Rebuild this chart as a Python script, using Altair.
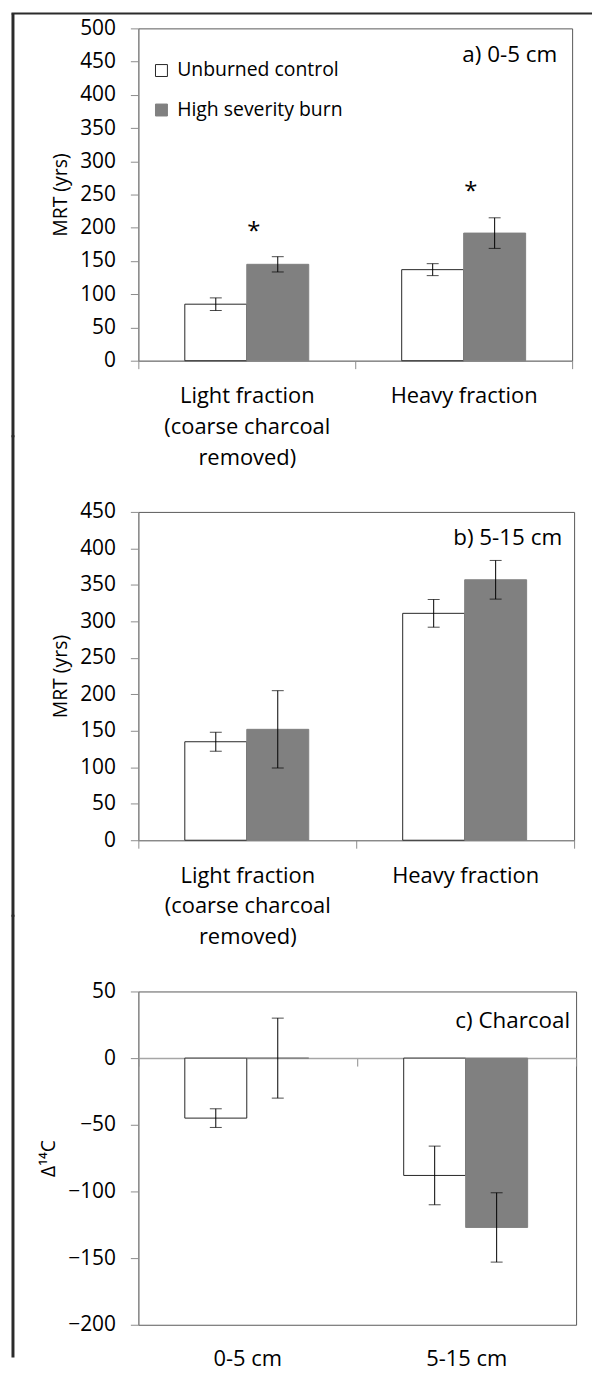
import altair as alt
import pandas as pd

FONT = "Open Sans"

treatments = ["Unburned control", "High severity burn"]
fill_colors = ["#ffffff", "#808080"]
stroke_colors = ["#262626", "#808080"]

# ---- panel a) 0-5 cm ----
a_cats = ["Light fraction", "Heavy fraction"]
a_control = [85, 137]
a_control_err = [9.5, 9]
a_burn = [145, 192]
a_burn_err = [11.5, 23]
a_star_cats = ["Light fraction", "Heavy fraction"]
a_star_y = [203, 263]
a_ticks = [0, 50, 100, 150, 200, 250, 300, 350, 400, 450, 500]

# ---- panel b) 5-15 cm ----
b_cats = ["Light fraction", "Heavy fraction"]
b_control = [135, 311]
b_control_err = [13, 19]
b_burn = [152, 357]
b_burn_err = [53, 26.5]
b_ticks = [0, 50, 100, 150, 200, 250, 300, 350, 400, 450]

# ---- panel c) Charcoal ----
c_cats = ["0-5 cm", "5-15 cm"]
c_control = [-45, -88]
c_control_err = [7, 22]
c_burn = [0, -127]
c_burn_err = [30, 26]
c_ticks = [-200, -150, -100, -50, 0, 50]

light_label_lines = ["Light fraction", "(coarse charcoal", "removed)"]
panel_titles = ["a) 0-5 cm", "b) 5-15 cm", "c) Charcoal"]
y_titles = ["MRT (yrs)", "MRT (yrs)", "Δ¹⁴C"]

FRAME_X = -126
FRAME_COLOR = "#2b2b2b"
AXIS_GRAY = "#8c8c8c"
TICK_FS = 21
XLAB_FS = 22
LEG_FS = 19.5
PTITLE_FS = 22.5
YTITLE_FS = 19.5


def make_df(cats, control, cerr, burn, berr):
    rows = []
    for i, c in enumerate(cats):
        rows.append({"cat": c, "trt": treatments[0], "v": control[i], "e": cerr[i]})
        rows.append({"cat": c, "trt": treatments[1], "v": burn[i], "e": berr[i]})
    return pd.DataFrame(rows)


label_expr = ("datum.value == '" + light_label_lines[0] + "' ? ["
              + ", ".join("'" + s + "'" for s in light_label_lines) + "] : datum.label")


def panel(cats, control, cerr, burn, berr, ticks, ytitle, ptitle, width, height,
          legend_x, legend_y, legend_rowpad, title_dx, title_y, frame_top, frame_bottom,
          zero_axis=False, stars=None, top_frame=False):
    df = make_df(cats, control, cerr, burn, berr)
    base = alt.Chart(df)

    if zero_axis:
        x_axis = alt.Axis(title=None, labelExpr=label_expr, labelFontSize=XLAB_FS, labelLineHeight=31,
                          ticks=False, domain=False, labelPadding=24, labelAngle=0, orient="bottom")
    else:
        x_axis = alt.Axis(title=None, labelExpr=label_expr, labelFontSize=XLAB_FS, labelLineHeight=31,
                          tickBand="extent", tickSize=8, labelPadding=17, labelAngle=0,
                          domainColor=AXIS_GRAY, tickColor=AXIS_GRAY, orient="bottom")
    X = alt.X("cat:N", sort=cats, title=None,
              scale=alt.Scale(paddingInner=0, paddingOuter=0), axis=x_axis)
    XO = alt.XOffset("trt:N", sort=treatments,
                     scale=alt.Scale(domain=treatments, paddingInner=0, paddingOuter=0.75))

    def Y(field):
        return alt.Y(field, title=ytitle,
                     scale=alt.Scale(domain=[ticks[0], ticks[-1]], nice=False),
                     axis=alt.Axis(values=ticks, tickSize=8, labelPadding=15, labelFontSize=TICK_FS,
                                   titleFontSize=YTITLE_FS, titleFontWeight="normal", titlePadding=9,
                                   domainColor=AXIS_GRAY, tickColor=AXIS_GRAY, grid=False))

    leg = alt.Legend(title=None, orient="none", legendX=legend_x, legendY=legend_y,
                     symbolType="square", symbolSize=144, symbolStrokeWidth=1,
                     labelFontSize=LEG_FS, labelFont=FONT, labelColor="#000", labelOffset=6,
                     rowPadding=legend_rowpad, padding=0, labelLimit=400)

    bars = base.mark_bar(strokeWidth=1).encode(
        x=X, xOffset=XO, y=Y("v:Q"),
        fill=alt.Fill("trt:N", sort=treatments,
                      scale=alt.Scale(domain=treatments, range=fill_colors), legend=leg),
        stroke=alt.Stroke("trt:N", sort=treatments,
                          scale=alt.Scale(domain=treatments, range=stroke_colors), legend=leg),
    )
    err_base = base.transform_calculate(lo="datum.v - datum.e", hi="datum.v + datum.e")
    err = err_base.mark_rule(color="#000", strokeWidth=1).encode(x=X, xOffset=XO, y=Y("lo:Q"), y2="hi:Q")
    cap_lo = err_base.mark_tick(color="#000", thickness=1, size=12, orient="horizontal").encode(
        x=X, xOffset=XO, y=Y("lo:Q"))
    cap_hi = err_base.mark_tick(color="#000", thickness=1, size=12, orient="horizontal").encode(
        x=X, xOffset=XO, y=Y("hi:Q"))

    one = pd.DataFrame({"t": [ptitle]})
    ptext = alt.Chart(one).mark_text(align="right", baseline="middle", fontSize=PTITLE_FS,
                                     font=FONT, color="#000").encode(
        text="t:N", x=alt.value(width - title_dx), y=alt.value(title_y))

    frame_left = alt.Chart(one).mark_rule(color=FRAME_COLOR, strokeWidth=3).encode(
        x=alt.value(FRAME_X), y=alt.value(frame_top), y2=alt.value(frame_bottom))

    layers = [bars, err, cap_lo, cap_hi]
    if stars is not None:
        sdf = pd.DataFrame({"cat": stars[0], "trt": [treatments[1]] * len(stars[0]),
                            "v": stars[1], "s": ["*"] * len(stars[0])})
        star_layer = alt.Chart(sdf).mark_text(fontSize=24, font=FONT, color="#000",
                                              baseline="middle", dx=-24, dy=6).encode(
            x=X, xOffset=XO, y=Y("v:Q"), text="s:N")
        layers.append(star_layer)
    layers += [ptext, frame_left]
    if top_frame:
        layers.append(alt.Chart(one).mark_rule(color=FRAME_COLOR, strokeWidth=2).encode(
            x=alt.value(FRAME_X - 1.5), x2=alt.value(456), y=alt.value(frame_top),
            y2=alt.value(frame_top)))
    inner = alt.layer(*layers)

    if zero_axis:
        zero_from_top = height * (ticks[-1] - 0) / (ticks[-1] - ticks[0])
        zero_off = -(height - zero_from_top)
        zaxis = alt.Axis(title=None, labels=False, tickBand="extent", tickSize=8,
                         offset=zero_off, orient="bottom", domainColor="#a6a6a6",
                         domainWidth=1.5, tickColor=AXIS_GRAY)
        zl = base.mark_point(opacity=0).encode(
            x=alt.X("cat:N", sort=cats, title=None,
                    scale=alt.Scale(paddingInner=0, paddingOuter=0), axis=zaxis),
            y=Y("v:Q"))
        inner = alt.layer(inner, zl).resolve_axis(x="independent")

    return inner.properties(width=width, height=height)


pa = panel(a_cats, a_control, a_control_err, a_burn, a_burn_err, a_ticks, y_titles[0],
           panel_titles[0], 436, 334, legend_x=13.5, legend_y=32.6, legend_rowpad=18.7,
           title_dx=15, title_y=27, frame_top=-15, frame_bottom=334 + 77,
           stars=(a_star_cats, a_star_y), top_frame=True)
pb = panel(b_cats, b_control, b_control_err, b_burn, b_burn_err, b_ticks, y_titles[1],
           panel_titles[1], 438, 330, legend_x=24.5, legend_y=18, legend_rowpad=15,
           title_dx=12, title_y=26, frame_top=-77, frame_bottom=330 + 77)
pc = panel(c_cats, c_control, c_control_err, c_burn, c_burn_err, c_ticks, y_titles[2],
           panel_titles[2], 440, 335, legend_x=36, legend_y=247, legend_rowpad=19,
           title_dx=6, title_y=30, frame_top=-77, frame_bottom=368, zero_axis=True)

chart = alt.vconcat(pa, pb, pc, spacing=152, bounds="flush").properties(
    padding={"left": 2, "top": 0, "right": 0, "bottom": 0}
).configure_view(stroke="#595959", strokeWidth=1).configure_axis(
    labelFont=FONT, titleFont=FONT, labelColor="#000", titleColor="#000"
).configure_text(font=FONT).configure_legend(labelFont=FONT)

chart.save("out.html", embed_options={"renderer": "svg", "actions": False})
